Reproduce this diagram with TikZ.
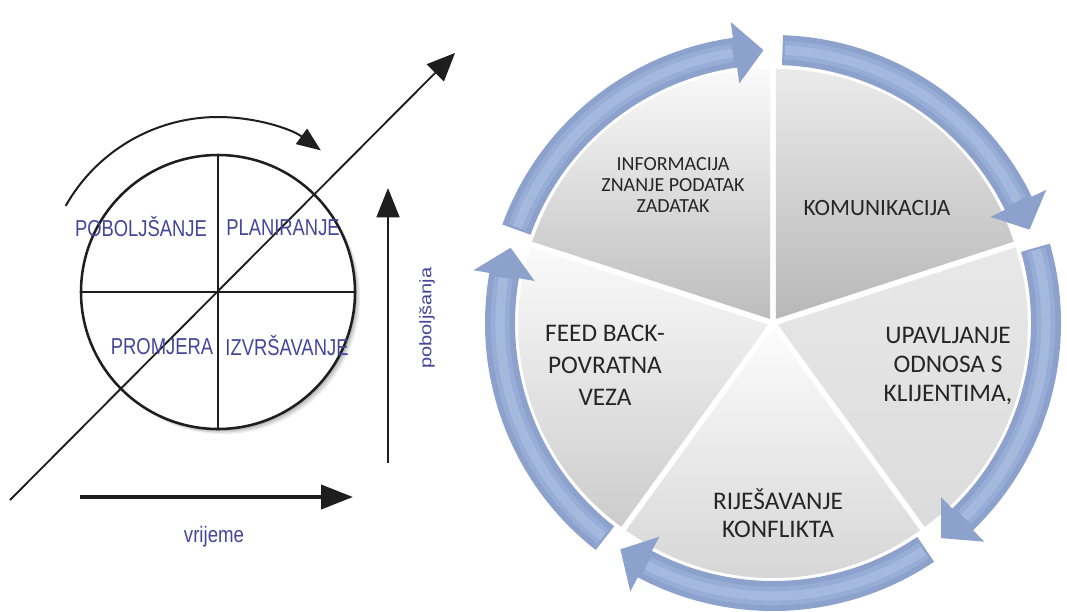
\documentclass[tikz,border=0pt]{standalone}
\usepackage{fontspec}
\setmainfont{Carlito}
\newfontfamily\arialf{Liberation Sans}
\usepackage{graphicx}
\usetikzlibrary{arrows.meta}
\definecolor{lbl}{HTML}{45459C}
\definecolor{ink}{HTML}{1E1E1E}
\definecolor{ringc}{HTML}{8CA2CD}
\definecolor{ringm}{HTML}{98ADD5}
\definecolor{ringl}{HTML}{A5B8DD}
\definecolor{txt}{HTML}{262626}
\tikzset{
  lefttxt/.style={text=lbl, font=\arialf\fontsize{13.8}{16}\selectfont, inner sep=0pt},
  segtxt/.style={text=txt, align=center, inner sep=0pt},
  ln/.style={draw=ink, line width=1.5pt},
}
\begin{document}
\begin{tikzpicture}[x=0.75pt, y=0.75pt]
\useasboundingbox (0,0) rectangle (1067,-611);
\fill[white] (0,0) rectangle (1067,-611);
% ---------------- left diagram ----------------
\coordinate (C) at (218,-292);
\foreach \s/\o in {2/0.12,3.5/0.10,5/0.08}
  \fill[black, opacity=\o] (218+\s,-292-\s) circle[radius=137];
\node[draw=ink, line width=1.9pt, fill=white, circle, minimum size=205.5pt, inner sep=0pt, outer sep=0pt] (circ) at (C) {};
\draw[ln] (circ.north) -- (circ.south);
\draw[ln] (circ.west) -- (circ.east);
% curved arrow
\draw[ink, line width=1.5pt, -{Triangle[length=18pt,width=14pt]}] ([shift={(150.5:175)}]C) arc[start angle=150.5, end angle=54, radius=175];
% diagonal arrow
\coordinate (d0) at (10,-500);
\coordinate (d1) at (455,-53);
\draw[ink, line width=1.4pt, -{Triangle[length=21pt,width=18pt]}] (d0) -- (d1);
% vertical arrow
\coordinate (v0) at (388,-463);
\coordinate (v1) at (388,-188);
\draw[ink, line width=2.2pt, -{Triangle[length=22pt,width=17pt]}] (v0) -- (v1);
% horizontal arrow
\coordinate (h0) at (80,-497);
\coordinate (h1) at (353,-497);
\draw[ink, line width=3pt, -{Triangle[length=24pt,width=18pt]}] (h0) -- (h1);
% labels
\node[lefttxt] (lp) at (141,-227) {\scalebox{1}[1.25]{POBOLJŠANJE}};
\node[lefttxt] (lpl) at (283,-228) {\scalebox{1}[1.25]{PLANIRANJE}};
\node[lefttxt] (lpr) at (162,-347) {\scalebox{1}[1.25]{PROMJERA}};
\node[lefttxt] (liz) at (287,-346) {\scalebox{1}[1.25]{IZVRŠAVANJE}};
\node[lefttxt, font=\arialf\fontsize{14}{16}\selectfont] (lvr) at (214,-537) {\scalebox{1}[1.2]{vrijeme}};
\node[lefttxt, font=\arialf\fontsize{12.5}{15}\selectfont, rotate=90] (lpo) at (427,-318) {\scalebox{1.2}[1]{poboljšanja}};
% ---------------- right diagram ----------------
\begin{scope}[shift={(773,-323)}]
  \path[shift={(126:5)}, top color=black!2, bottom color=black!26] (0,0) -- (90:250) arc[start angle=90, end angle=162, radius=250] -- cycle;
  \path[shift={(54:5)}, top color=black!8, bottom color=black!28] (0,0) -- (18:250) arc[start angle=18, end angle=90, radius=250] -- cycle;
  \path[shift={(-18:5)}, top color=black!9, bottom color=black!14] (0,0) -- (-54:250) arc[start angle=-54, end angle=18, radius=250] -- cycle;
  \path[shift={(-90:5)}, top color=black!1, bottom color=black!17] (0,0) -- (-126:250) arc[start angle=-126, end angle=-54, radius=250] -- cycle;
  \path[shift={(198:5)}, top color=black!2, bottom color=black!20] (0,0) -- (162:250) arc[start angle=162, end angle=234, radius=250] -- cycle;
  \foreach \a in {160,88,16,-56,-128} {
    \pgfmathsetmacro\tp{\a-68}
    \pgfmathsetmacro\bs{\a-62}
    \pgfmathsetmacro\am{\a-0.5}
    \pgfmathsetmacro\bm{\bs+0.5}
    \fill[ringc] (\a:288) arc[start angle=\a, end angle=\bs, radius=288] -- (\bs:304) -- (\tp:273) -- (\bs:242) -- (\bs:258) arc[start angle=\bs, end angle=\a, radius=258] -- cycle;
    \draw[ringm, line width=14pt] (\am:273) arc[start angle=\am, end angle=\bm, radius=273];
    \draw[ringl, line width=7pt] (\am:273) arc[start angle=\am, end angle=\bm, radius=273];
  }
\end{scope}
\node[segtxt, font=\fontsize{15}{15.5}\selectfont] (s1) at (673,-185) {INFORMACIJA\\ZNANJE PODATAK\\ZADATAK};
\node[segtxt, font=\fontsize{17.5}{21}\selectfont] (s2) at (877,-208) {KOMUNIKACIJA};
\node[segtxt, font=\fontsize{19}{22}\selectfont] (s3) at (948,-366) {UPAVLJANJE\\ODNOSA S\\KLIJENTIMA,};
\node[segtxt, font=\fontsize{19}{21}\selectfont] (s4) at (778,-513) {RIJEŠAVANJE\\KONFLIKTA};
\node[segtxt, font=\fontsize{19}{24}\selectfont] (s5) at (605,-365) {FEED BACK-\\POVRATNA\\VEZA};
\end{tikzpicture}
\end{document}
